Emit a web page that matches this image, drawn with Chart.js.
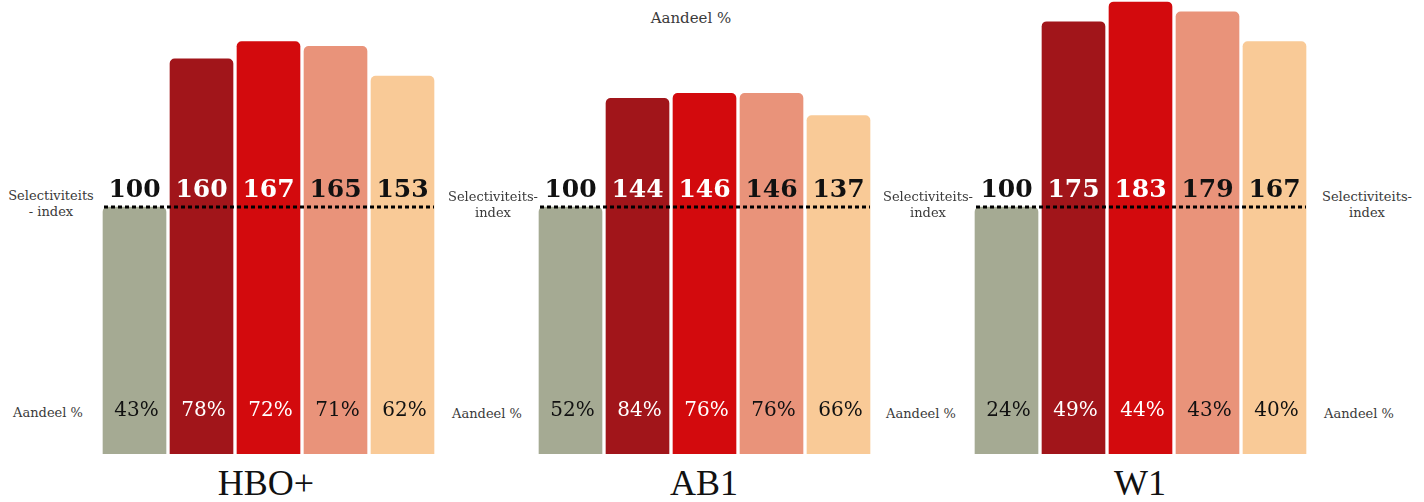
<!DOCTYPE html>
<html>
<head>
<meta charset="utf-8">
<script src="https://cdn.jsdelivr.net/npm/chart.js@4.4.1/dist/chart.umd.min.js"></script>
<style>
  html, body { margin: 0; padding: 0; background: #fff; }
  body { width: 1424px; height: 502px; position: relative; overflow: hidden; font-family: "DejaVu Serif", serif; }
  .chart-box { position: absolute; top: 0; width: 335px; height: 454px; }
  .lbl { position: absolute; transform: translateX(-50%); text-align: center; color: #3a3a3a; font-size: 13px; line-height: 16px; white-space: nowrap; }
  .title { position: absolute; transform: translateX(-50%); font-family: "Liberation Serif", serif; font-size: 36px; line-height: 40px; color: #111; white-space: nowrap; }
  .top-lbl { position: absolute; transform: translateX(-50%); font-size: 15px; line-height: 18px; color: #3a3a3a; white-space: nowrap; }
</style>
</head>
<body>
<div class="top-lbl" style="left:691px; top:9px;">Aandeel %</div>

<div class="chart-box" style="left:101px;"><canvas id="chartHBO"></canvas></div>
<div class="chart-box" style="left:537px;"><canvas id="chartAB1"></canvas></div>
<div class="chart-box" style="left:973px;"><canvas id="chartW1"></canvas></div>

<div class="lbl" style="left:51px; top:188px;">Selectiviteits<br>- index</div>
<div class="lbl" style="left:493px; top:189px;">Selectiviteits-<br>index</div>
<div class="lbl" style="left:928px; top:189px;">Selectiviteits-<br>index</div>
<div class="lbl" style="left:1367px; top:189px;">Selectiviteits-<br>index</div>

<div class="lbl" style="left:48px; top:405px;">Aandeel %</div>
<div class="lbl" style="left:487px; top:406px;">Aandeel %</div>
<div class="lbl" style="left:921px; top:406px;">Aandeel %</div>
<div class="lbl" style="left:1359px; top:406px;">Aandeel %</div>

<div class="title" style="left:266px; top:463px;">HBO+</div>
<div class="title" style="left:704px; top:463px;">AB1</div>
<div class="title" style="left:1140px; top:463px;">W1</div>

<script>
// Data
const categories = ["Totaal", "Groep 1", "Groep 2", "Groep 3", "Groep 4"];
const indexHBO = [100, 160, 167, 165, 153];
const indexAB1 = [100, 144, 146, 146, 137];
const indexW1 = [100, 175, 183, 179, 167];
const shareHBO = [43, 78, 72, 71, 62];
const shareAB1 = [52, 84, 76, 76, 66];
const shareW1 = [24, 49, 44, 43, 40];

const barColors = ["#a5aa93", "#a1151a", "#d30a0d", "#e9937a", "#f9ca97"];
const textColors = ["#111", "#fff", "#fff", "#111", "#111"];

// Labels + dotted baseline at index 100
const labelPlugin = {
  id: "groupLabels",
  afterDatasetsDraw(chart) {
    const ctx = chart.ctx;
    const meta = chart.getDatasetMeta(0);
    const yScale = chart.scales.y;
    const lineY = yScale.getPixelForValue(100);
    const shares = chart.options.plugins.groupLabels.shares;
    const area = chart.chartArea;

    ctx.save();
    ctx.strokeStyle = "#000";
    ctx.lineWidth = 3;
    ctx.setLineDash([4, 3]);
    ctx.beginPath();
    ctx.moveTo(area.left + 3, lineY);
    ctx.lineTo(area.right - 2, lineY);
    ctx.stroke();
    ctx.setLineDash([]);

    ctx.textAlign = "center";
    ctx.textBaseline = "alphabetic";
    meta.data.forEach((bar, i) => {
      const value = chart.data.datasets[0].data[i];
      ctx.fillStyle = textColors[i];
      ctx.font = "bold 25px 'DejaVu Serif'";
      ctx.fillText(String(value), bar.x, lineY - 10);
      ctx.font = "20px 'DejaVu Serif'";
      ctx.fillText(shares[i] + "%", bar.x + 2, area.bottom - 38);
    });
    ctx.restore();
  }
};

function makeChart(id, values, shares) {
  new Chart(document.getElementById(id), {
    type: "bar",
    data: {
      labels: categories,
      datasets: [{
        data: values,
        backgroundColor: barColors,
        borderWidth: 0,
        borderRadius: 5,
        barThickness: 63
      }]
    },
    options: {
      responsive: true,
      maintainAspectRatio: false,
      animation: false,
      layout: { padding: 0 },
      scales: {
        x: { display: false },
        y: { display: false, min: 0, max: 183.8 }
      },
      plugins: {
        legend: { display: false },
        tooltip: { enabled: false },
        groupLabels: { shares }
      }
    },
    plugins: [labelPlugin]
  });
}

makeChart("chartHBO", indexHBO, shareHBO);
makeChart("chartAB1", indexAB1, shareAB1);
makeChart("chartW1", indexW1, shareW1);
</script>
</body>
</html>
